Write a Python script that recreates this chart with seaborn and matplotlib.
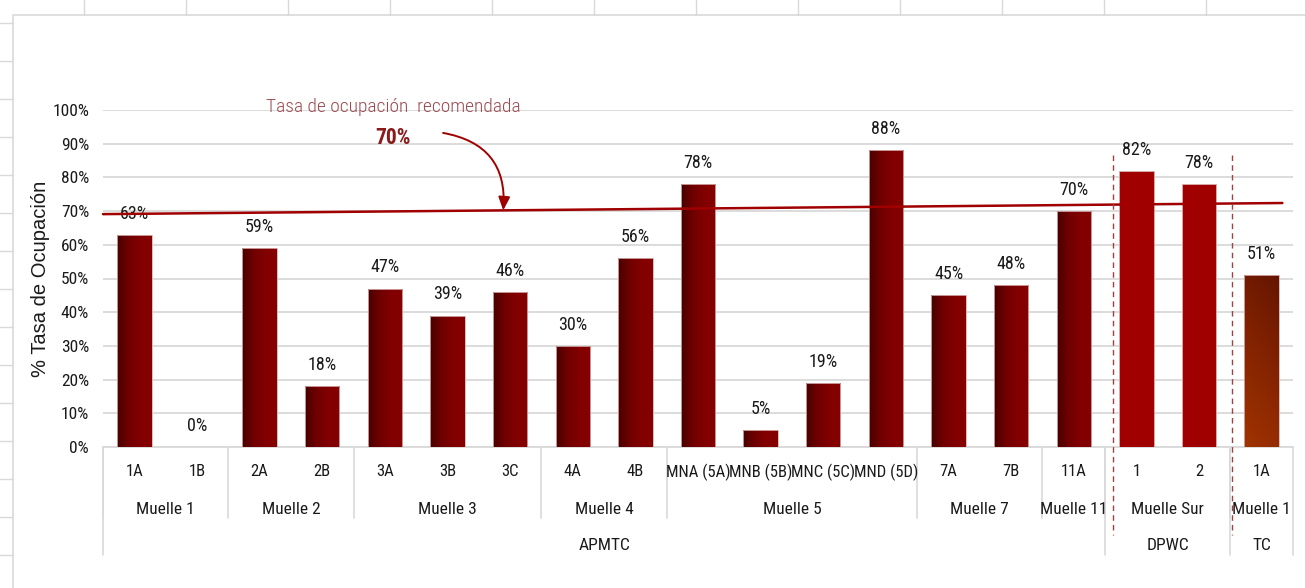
import numpy as np
import pandas as pd
import matplotlib
matplotlib.use("Agg")
import matplotlib.pyplot as plt
import seaborn as sns
from matplotlib.colors import LinearSegmentedColormap
from matplotlib.lines import Line2D
from matplotlib.ticker import FuncFormatter

# Data
berths = ["1A", "1B", "2A", "2B", "3A", "3B", "3C", "4A", "4B",
          "MNA (5A)", "MNB (5B)", "MNC (5C)", "MND (5D)", "7A", "7B", "11A",
          "1", "2", "1A"]
docks = ["Muelle 1"] * 2 + ["Muelle 2"] * 2 + ["Muelle 3"] * 3 + ["Muelle 4"] * 2 + \
        ["Muelle 5"] * 4 + ["Muelle 7"] * 2 + ["Muelle 11"] + ["Muelle Sur"] * 2 + ["Muelle 1"]
operators = ["APMTC"] * 16 + ["DPWC"] * 2 + ["TC"]
occupancy = [63, 0, 59, 18, 47, 39, 46, 30, 56, 78, 5, 19, 88, 45, 48, 70, 82, 78, 51]
rec_start, rec_end = 69.1, 72.4   # recommended-rate line, slightly sloped
rec_label = "Tasa de ocupación  recomendada"
rec_value = "70%"

df = pd.DataFrame({"berth": berths, "dock": docks, "operator": operators, "occ": occupancy})
df["pos"] = range(len(df))

sns.set_style("white")
plt.rcParams["font.family"] = ["Roboto Condensed", "Archivo Narrow", "DejaVu Sans"]

W, H = 1305, 588
fig = plt.figure(figsize=(W / 100, H / 100), dpi=100)

def fx(px):
    return px / W

def fy(py):
    return 1 - py / H

# spreadsheet background bits
grey = "#d9d9d9"
fig.add_artist(Line2D([fx(13), fx(13), fx(W)], [fy(H), fy(15), fy(15)], color=grey, lw=1.2))
for px in range(84, W, 102):
    fig.add_artist(Line2D([fx(px), fx(px)], [fy(0), fy(15)], color=grey, lw=1))
for py in range(23, H, 38):
    fig.add_artist(Line2D([fx(0), fx(13)], [fy(py), fy(py)], color=grey, lw=1))

ax = fig.add_axes([fx(103), fy(447), fx(1293 - 103), (447 - 110) / H])

sns.barplot(data=df, x="pos", y="occ", color="#800000", width=0.55, ax=ax,
            edgecolor="#d8b0b0", linewidth=0.6, zorder=3)

apm_cmap = LinearSegmentedColormap.from_list("apm", ["#480000", "#700000", "#820000", "#860000"])
tc_cmap = LinearSegmentedColormap.from_list("tc", ["#661500", "#852400", "#a03300"])
grad = np.linspace(0, 1, 64)

for patch, op in zip(ax.patches, df["operator"]):
    x, w, h = patch.get_x(), patch.get_width(), patch.get_height()
    if h <= 0:
        continue
    if op == "DPWC":
        patch.set_facecolor("#a00000")
        continue
    patch.set_facecolor("none")
    if op == "APMTC":
        img = grad[np.newaxis, :]
        im = ax.imshow(img, cmap=apm_cmap, extent=[x, x + w, 0, h], aspect="auto", zorder=2.9)
    else:
        img = (grad[:, np.newaxis] * 0.8 + grad[np.newaxis, ::-1] * 0.2)
        im = ax.imshow(img, cmap=tc_cmap, extent=[x, x + w, 0, h], aspect="auto",
                       origin="upper", zorder=2.9)
    im.set_clip_path(patch)

# value labels
for i, v in enumerate(df["occ"]):
    ax.text(i, v + 3.6, f"{v}%", ha="center", va="bottom", fontsize=13, color="#1a1a1a")

ax.set_xlim(-0.5, len(df) - 0.5)
ax.set_ylim(0, 100)
ax.set_yticks(np.arange(0, 101, 10))
ax.yaxis.set_major_formatter(FuncFormatter(lambda v, p: f"{v:.0f}%"))
ax.tick_params(axis="y", length=0, pad=10, labelsize=12.5, labelcolor="#1a1a1a")
ax.set_xticks([])
ax.set_xlabel("")
ax.grid(axis="y", color=grey, lw=1.3, zorder=0)
ax.set_axisbelow(True)
for s in ["top", "right", "left"]:
    ax.spines[s].set_visible(False)
ax.spines["bottom"].set_color(grey)
ax.spines["bottom"].set_linewidth(1.3)
ax.set_ylabel("% Tasa de Ocupación", family=["Liberation Sans", "DejaVu Sans"],
              fontsize=14.5, color="#1a1a1a")
ax.yaxis.set_label_coords(-0.0445, 0.5)

# recommended line
x_end = 18.33
ax.plot([-0.5, x_end], [rec_start, rec_end], color="#a00000", lw=1.8, zorder=4, clip_on=False)

# annotation
ax.text(4.13, 100.9, rec_label, ha="center", va="center", fontsize=14, fontweight="light",
        color="#9c4a50", clip_on=False)
ax.text(4.13, 91.7, rec_value, ha="center", va="center", fontsize=15.5, fontweight="bold",
        color="#8b1a1a")
x_arrow = 5.89
y_arrow = rec_start + (rec_end - rec_start) * (x_arrow + 0.5) / (x_end + 0.5)
ax.annotate("", xy=(x_arrow, y_arrow), xytext=(4.93, 93.2),
            arrowprops=dict(arrowstyle="-|>,head_length=0.8,head_width=0.35", color="#a00000",
                            lw=1.4, connectionstyle="arc3,rad=-0.45", shrinkA=0, shrinkB=0),
            zorder=5)

# operator separators (red dashed)
for xd in [15.62, 17.53]:
    ax.plot([xd, xd], [86.6, -26.1], color="#a04040", lw=1, ls=(0, (4, 3)), clip_on=False, zorder=5)

# hierarchical x axis
tr = ax.get_xaxis_transform()
row1, row2, row3 = -0.074, -0.184, -0.292
for i, b in enumerate(df["berth"]):
    ax.text(i, row1, b, transform=tr, ha="center", va="center", fontsize=12, color="#1a1a1a")

def runs(vals):
    out = []
    start = 0
    for i in range(1, len(vals) + 1):
        if i == len(vals) or vals[i] != vals[start]:
            out.append((vals[start], start, i - 1))
            start = i
    return out

dock_keys = list(zip(df["operator"], df["dock"]))
for (op, dk), a, b in runs(dock_keys):
    ax.text((a + b) / 2, row2, dk, transform=tr, ha="center", va="center", fontsize=12.5,
            color="#1a1a1a")
    ax.plot([a - 0.5, a - 0.5], [0, -0.211], transform=tr, color=grey, lw=1.2, clip_on=False)
for op, a, b in runs(list(df["operator"])):
    ax.text((a + b) / 2, row3, op, transform=tr, ha="center", va="center", fontsize=12.5,
            color="#1a1a1a")
    ax.plot([a - 0.5, a - 0.5], [0, -0.32], transform=tr, color=grey, lw=1.2, clip_on=False)
ax.plot([len(df) - 0.5] * 2, [0, -0.32], transform=tr, color=grey, lw=1.2, clip_on=False)

fig.savefig("out.png", dpi=100)
